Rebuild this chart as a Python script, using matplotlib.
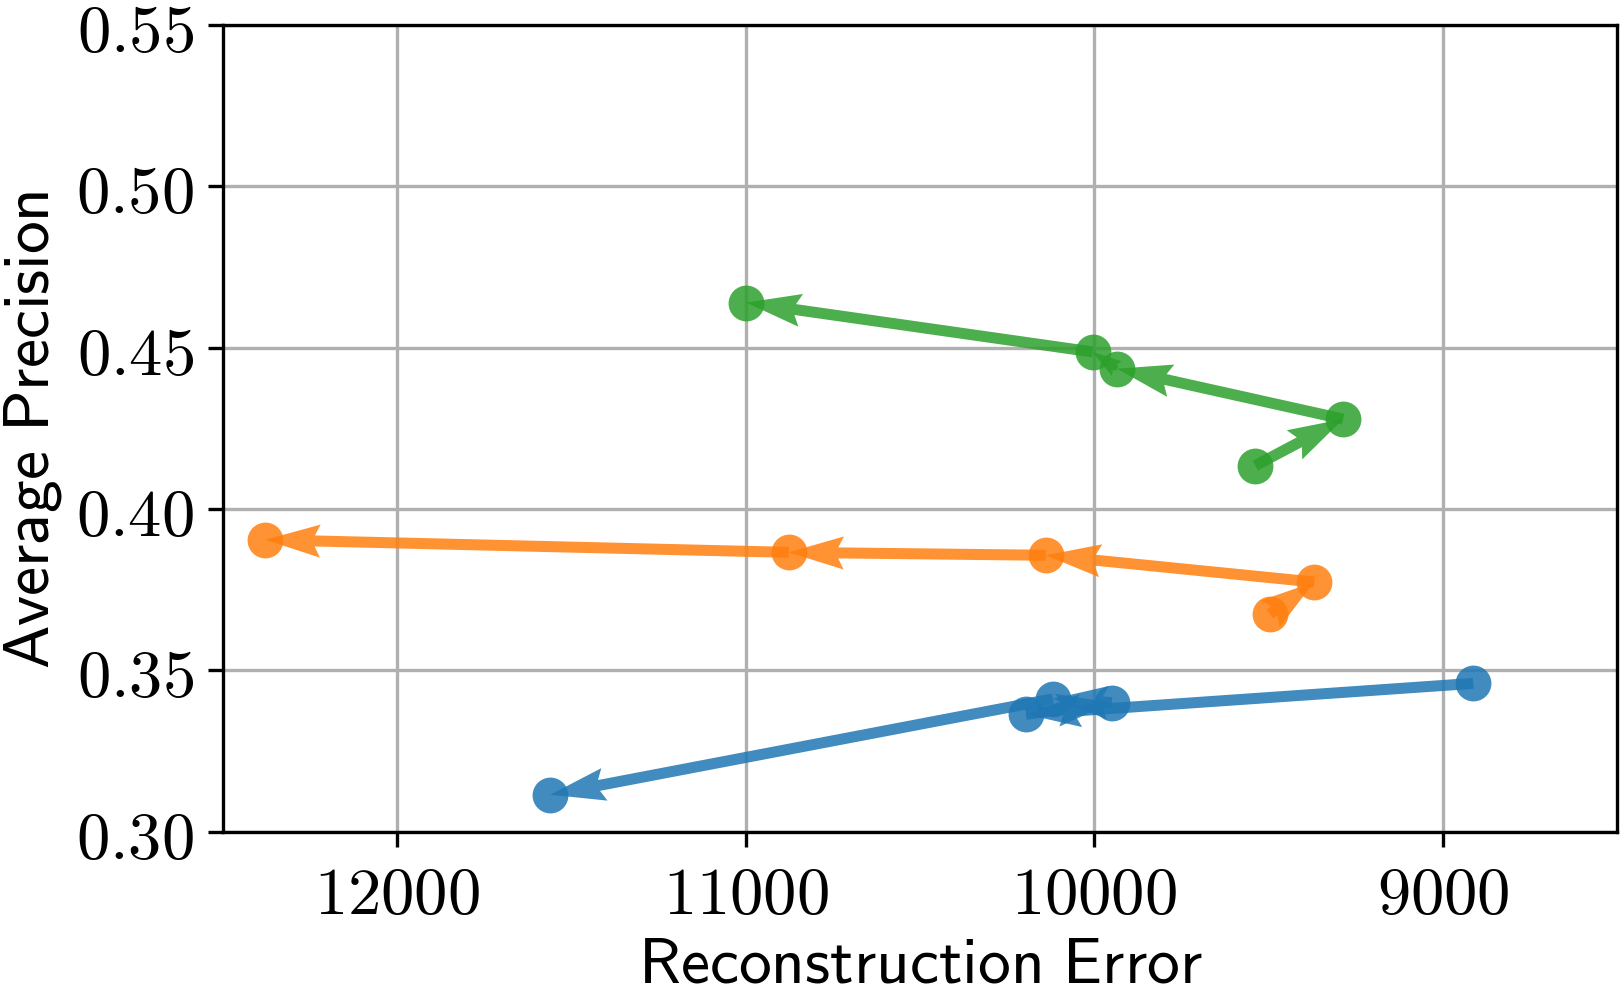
import matplotlib
matplotlib.use("Agg")
import matplotlib.pyplot as plt
from matplotlib.ticker import FuncFormatter
import numpy as np

plt.rcParams["mathtext.fontset"] = "cm"
plt.rcParams["font.size"] = 16

# trajectories: reconstruction error vs average precision (in order of steps)
blue_err = [8913, 10196, 9950, 10119, 11561]
blue_ap = [0.3460, 0.3364, 0.3400, 0.3412, 0.3115]

orange_err = [9496, 9369, 10139, 10877, 12379]
orange_ap = [0.3675, 0.3774, 0.3857, 0.3866, 0.3905]

green_err = [9538, 9286, 9935, 10005, 10999]
green_ap = [0.4135, 0.4279, 0.4435, 0.4487, 0.4640]

series = [
    (blue_err, blue_ap, "tab:blue"),
    (orange_err, orange_ap, "tab:orange"),
    (green_err, green_ap, "tab:green"),
]

fig = plt.figure(figsize=(1621 / 300, 1001 / 300), dpi=300)
ax = fig.add_axes([0.1376, 0.168, 0.8600, 0.806])

for err, ap, col in series:
    err = np.array(err, dtype=float)
    ap = np.array(ap, dtype=float)
    ax.plot(err, ap, "o", color=col, markersize=8.6, alpha=0.85,
            markeredgewidth=0, zorder=3)
    ax.quiver(err[:-1], ap[:-1], np.diff(err), np.diff(ap),
              angles="xy", scale_units="xy", scale=1, color=col,
              alpha=0.85, width=0.0079, zorder=4)

ax.set_xlim(12500, 8500)
ax.set_ylim(0.30, 0.55)
ax.set_xticks([12000, 11000, 10000, 9000])
ax.set_yticks([0.30, 0.35, 0.40, 0.45, 0.50, 0.55])
ax.xaxis.set_major_formatter(FuncFormatter(lambda v, p: r"$%d$" % v))
ax.yaxis.set_major_formatter(FuncFormatter(lambda v, p: r"$%.2f$" % v))
ax.grid(True, color="#b0b0b0", linewidth=0.8)
ax.set_axisbelow(True)

ax.set_xlabel(r"$\mathsf{Reconstruction\ Error}$", fontsize=15.7, labelpad=1)
ax.set_ylabel(r"$\mathsf{Average\ Precision}$", fontsize=15.7, labelpad=3)

fig.savefig("out.png", dpi=300)
